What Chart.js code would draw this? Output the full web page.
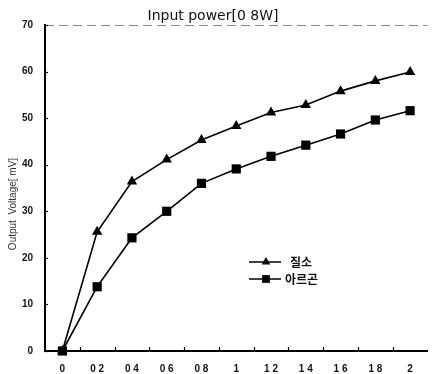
<!DOCTYPE html>
<html>
<head>
<meta charset="utf-8">
<script src="https://cdn.jsdelivr.net/npm/chart.js@4"></script>
<style>
  html, body { margin: 0; padding: 0; background: #fff; }
  #wrap { width: 434px; height: 374px; }
</style>
</head>
<body>
<div id="wrap"><canvas id="cv"></canvas></div>
<script>
const CATEGORIAS = ['0', '0 2', '0 4', '0 6', '0 8', '1', '1 2', '1 4', '1 6', '1 8', '2'];
const NITROGENO  = [0, 25.6, 36.4, 41.1, 45.3, 48.3, 51.2, 52.8, 55.8, 58.0, 59.9];
const ARGON      = [0, 13.8, 24.3, 30.0, 36.0, 39.1, 41.8, 44.2, 46.6, 49.6, 51.6];
const Y_TICKS    = [0, 10, 20, 30, 40, 50, 60, 70];
const TITULO     = 'Input power[0 8W]';
const TITULO_Y   = 'Output  Voltage[ mV]';

const NEGRO = '#000';

// textos, marcas internas y leyenda
const extras = {
  id: 'extras',
  afterDraw(chart) {
    const g = chart.ctx;
    const a = chart.chartArea;
    const x = chart.scales.x, y = chart.scales.y;
    g.save();

    // linea superior tenue
    g.strokeStyle = '#888';
    g.lineWidth = 1;
    g.setLineDash([9, 5]);
    g.beginPath(); g.moveTo(a.left, a.top + 0.5); g.lineTo(a.right, a.top + 0.5); g.stroke();
    g.setLineDash([]);

    // marcas hacia adentro
    g.strokeStyle = NEGRO;
    g.lineWidth = 1.2;
    for (let i = 0; i < CATEGORIAS.length - 1; i++) {
      const px = Math.round((x.getPixelForValue(i) + x.getPixelForValue(i + 1)) / 2) + 0.5;
      g.beginPath(); g.moveTo(px, a.bottom); g.lineTo(px, a.bottom - 4); g.stroke();
    }
    for (const v of Y_TICKS) {
      const py = Math.round(y.getPixelForValue(v)) + 0.5;
      g.beginPath(); g.moveTo(a.left, py); g.lineTo(a.left + 3, py); g.stroke();
    }

    // titulo
    g.fillStyle = '#111';
    g.font = '14px "DejaVu Sans"';
    g.textAlign = 'center';
    g.textBaseline = 'alphabetic';
    g.fillText(TITULO, 213, 20);

    // titulo eje y
    g.save();
    g.translate(13, 204);
    g.rotate(-Math.PI / 2);
    g.font = '10px "Liberation Sans"';
    g.fillStyle = '#333';
    g.textBaseline = 'middle';
    g.fillText(TITULO_Y, 0, 0);
    g.restore();

    // leyenda
    const items = [
      { txt: '질소', ds: 0, y: 262, tx: 290 },
      { txt: '아르곤', ds: 1, y: 279, tx: 285 }
    ];
    g.font = 'bold 12px "Noto Sans CJK KR"';
    g.textAlign = 'left';
    g.textBaseline = 'middle';
    for (const it of items) {
      const d = chart.data.datasets[it.ds];
      g.strokeStyle = NEGRO;
      g.lineWidth = 1.5;
      g.beginPath(); g.moveTo(249, it.y); g.lineTo(281, it.y); g.stroke();
      g.fillStyle = NEGRO;
      Chart.helpers.drawPoint(g, { pointStyle: d.pointStyle, radius: d.pointRadius - 1, borderWidth: 0 }, 266, it.y);
      g.fillStyle = '#111';
      g.fillText(it.txt, it.tx, it.y);
    }
    g.restore();
  }
};

new Chart(document.getElementById('cv'), {
  type: 'line',
  data: {
    labels: CATEGORIAS,
    datasets: [
      {
        label: '질소',
        data: NITROGENO,
        borderColor: NEGRO,
        backgroundColor: NEGRO,
        borderWidth: 1.6,
        pointStyle: 'triangle',
        pointRadius: 6,
        pointBorderWidth: 0,
        tension: 0,
        clip: false
      },
      {
        label: '아르곤',
        data: ARGON,
        borderColor: NEGRO,
        backgroundColor: NEGRO,
        borderWidth: 1.6,
        pointStyle: 'rect',
        pointRadius: 6.5,
        pointBorderWidth: 0,
        tension: 0,
        clip: false
      }
    ]
  },
  options: {
    responsive: true,
    maintainAspectRatio: false,
    animation: false,
    layout: { padding: { top: 25, right: 0, left: 0, bottom: 0 } },
    plugins: { legend: { display: false }, title: { display: false }, tooltip: { enabled: false } },
    scales: {
      x: {
        type: 'category',
        offset: true,
        grid: { display: false, drawTicks: false },
        border: { display: true, color: NEGRO, width: 2 },
        ticks: { color: '#111', font: { family: 'Liberation Sans', size: 10, weight: 'bold' }, padding: 12, maxRotation: 0, autoSkip: false },
        afterFit(s) { s.height = 23; }
      },
      y: {
        min: 0,
        max: 70,
        afterBuildTicks(s) { s.ticks = Y_TICKS.map(v => ({ value: v })); },
        grid: { display: false, drawTicks: false },
        border: { display: true, color: NEGRO, width: 2 },
        ticks: { color: '#111', font: { family: 'Liberation Sans', size: 10, weight: 'bold' }, padding: 12 },
        afterFit(s) { s.width = 45; }
      }
    }
  },
  plugins: [extras]
});
</script>
</body>
</html>
